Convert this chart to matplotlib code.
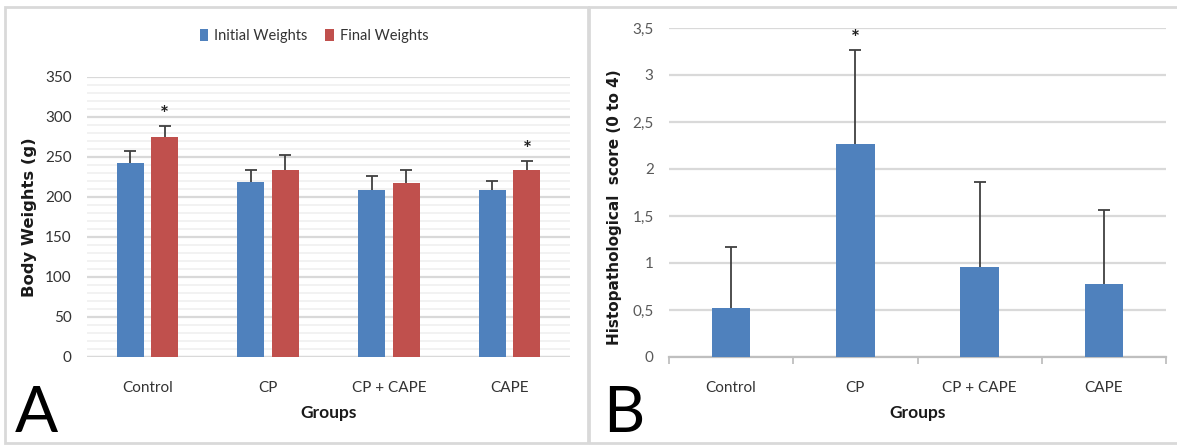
import matplotlib
matplotlib.use("Agg")
import matplotlib.pyplot as plt
from matplotlib.patches import Rectangle
from matplotlib.ticker import MultipleLocator, FuncFormatter
import numpy as np

plt.rcParams['font.family'] = ['Lato', 'DejaVu Sans']

groups = ['Control', 'CP', 'CP + CAPE', 'CAPE']

# panel A - body weights (g)
initial_weights = [242, 219, 209, 209]
initial_err = [16, 15, 17, 11]
final_weights = [275, 234, 218, 234]
final_err = [14, 18, 16, 11]
final_signif = [True, False, False, True]

# panel B - histopathological score
score = [0.52, 2.27, 0.96, 0.78]
score_err = [0.65, 1.00, 0.90, 0.78]
score_signif = [False, True, False, False]

BLUE = '#4F81BD'
RED = '#C0504D'
ERR = '#404040'

W, H = 1177, 446
fig = plt.figure(figsize=(W / 100, H / 100), dpi=100)
fig.patch.set_facecolor('white')


def frac(x0, y0, x1, y1):
    # pixel box (top-left origin) -> figure fraction [l, b, w, h]
    return [x0 / W, 1 - y1 / H, (x1 - x0) / W, (y1 - y0) / H]


def upper_errbar(ax, xs, ys, errs):
    # only the upper whisker with a cap, like the Excel "plus" error bars
    xs = np.asarray(xs)
    tops = np.asarray(ys) + np.asarray(errs)
    ax.vlines(xs, ys, tops, color=ERR, linewidth=1.3, zorder=2.5)
    ax.plot(xs, tops, ls='none', marker='_', ms=9, mew=1.3, color=ERR, zorder=4)


# panel frames
for box in [(5, 7, 588, 443), (589, 7, 1182, 443)]:
    l, b, w, h = frac(*box)
    fig.patches.append(Rectangle((l, b), w, h, transform=fig.transFigure,
                                 fill=False, edgecolor='#D9D9D9', linewidth=2))

label_font = dict(family=['DejaVu Sans'], fontweight='bold', color='#1A1A1A')

# ---------- Panel A ----------
axA = fig.add_axes(frac(87, 77, 570, 357))
x = np.arange(len(groups))
bw = 0.225
off = 0.143
axA.bar(x - off, initial_weights, bw, color=BLUE, label='Initial Weights', zorder=3)
axA.bar(x + off, final_weights, bw, color=RED, label='Final Weights', zorder=3)
upper_errbar(axA, x - off, initial_weights, initial_err)
upper_errbar(axA, x + off, final_weights, final_err)
for i, s in enumerate(final_signif):
    if s:
        axA.text(x[i] + off, final_weights[i] + final_err[i] + 1, '*', ha='center',
                 va='bottom', fontsize=15, fontweight='bold', color='#202020')

axA.set_xlim(-0.5, 3.5)
axA.set_ylim(0, 350)
axA.yaxis.set_major_locator(MultipleLocator(50))
axA.yaxis.set_minor_locator(MultipleLocator(10))
axA.grid(which='major', axis='y', color='#D9D9D9', linewidth=1.6, zorder=0)
axA.grid(which='minor', axis='y', color='#F0F0F0', linewidth=1.2, zorder=0)
axA.set_axisbelow(True)
for sp in axA.spines.values():
    sp.set_visible(False)
axA.axhline(0, color='#D9D9D9', linewidth=1.6, zorder=2)
axA.set_xticks(x)
axA.set_xticklabels(groups)
axA.tick_params(axis='both', which='both', length=0, labelsize=11, colors='#333333')
axA.tick_params(axis='x', pad=17)
axA.tick_params(axis='y', pad=11)
axA.set_ylabel('Body Weights (g)', fontsize=11.8, **label_font)
axA.yaxis.set_label_coords(-0.104, 0.5)
axA.set_xlabel('Groups', fontsize=12.5, fontweight='bold', color='#1A1A1A')
axA.xaxis.set_label_coords(0.5, -0.2)
axA.xaxis.label.set_va('center')
axA.legend(loc='center', bbox_to_anchor=(0.47, 1.145), ncol=2, frameon=False,
           fontsize=10.5, handlelength=0.6, handleheight=0.9, handletextpad=0.4,
           columnspacing=1.2, labelcolor='#333333')

fig.text(15 / W, 1 - 414 / H, 'A', fontsize=46, va='center', ha='left', color='black')

# ---------- Panel B ----------
axB = fig.add_axes(frac(669, 28, 1166, 357))
axB.bar(x, score, 0.31, color=BLUE, zorder=3)
upper_errbar(axB, x, score, score_err)
for i, s in enumerate(score_signif):
    if s:
        axB.text(x[i], score[i] + score_err[i] + 0.01, '*', ha='center', va='bottom',
                 fontsize=15, fontweight='bold', color='#202020')

axB.set_xlim(-0.5, 3.5)
axB.set_ylim(0, 3.5)
axB.yaxis.set_major_locator(MultipleLocator(0.5))
axB.yaxis.set_major_formatter(FuncFormatter(lambda v, p: f'{v:g}'.replace('.', ',')))
axB.grid(which='major', axis='y', color='#D9D9D9', linewidth=1.6, zorder=0)
axB.set_axisbelow(True)
for sp in ['top', 'right', 'left']:
    axB.spines[sp].set_visible(False)
axB.spines['bottom'].set_color('#BFBFBF')
axB.spines['bottom'].set_linewidth(1.6)
axB.set_xticks(np.arange(-0.5, 4, 1.0))
axB.set_xticks(x, minor=True)
axB.set_xticklabels([])
axB.set_xticklabels(groups, minor=True)
axB.tick_params(axis='x', which='major', length=5, width=1.3, color='#BFBFBF')
axB.tick_params(axis='x', which='minor', length=0, pad=17, labelsize=11, labelcolor='#333333')
axB.tick_params(axis='y', length=0, pad=11, labelsize=11, labelcolor='#595959')
axB.set_ylabel('Histopathological  score (0 to 4)', fontsize=11, **label_font)
axB.yaxis.set_label_coords(-0.095, 0.456)
axB.set_xlabel('Groups', fontsize=12.5, fontweight='bold', color='#1A1A1A')
axB.xaxis.set_label_coords(0.5, -0.17)
axB.xaxis.label.set_va('center')

fig.text(603 / W, 1 - 414 / H, 'B', fontsize=46, va='center', ha='left', color='black')

fig.savefig('out.png', dpi=100)
